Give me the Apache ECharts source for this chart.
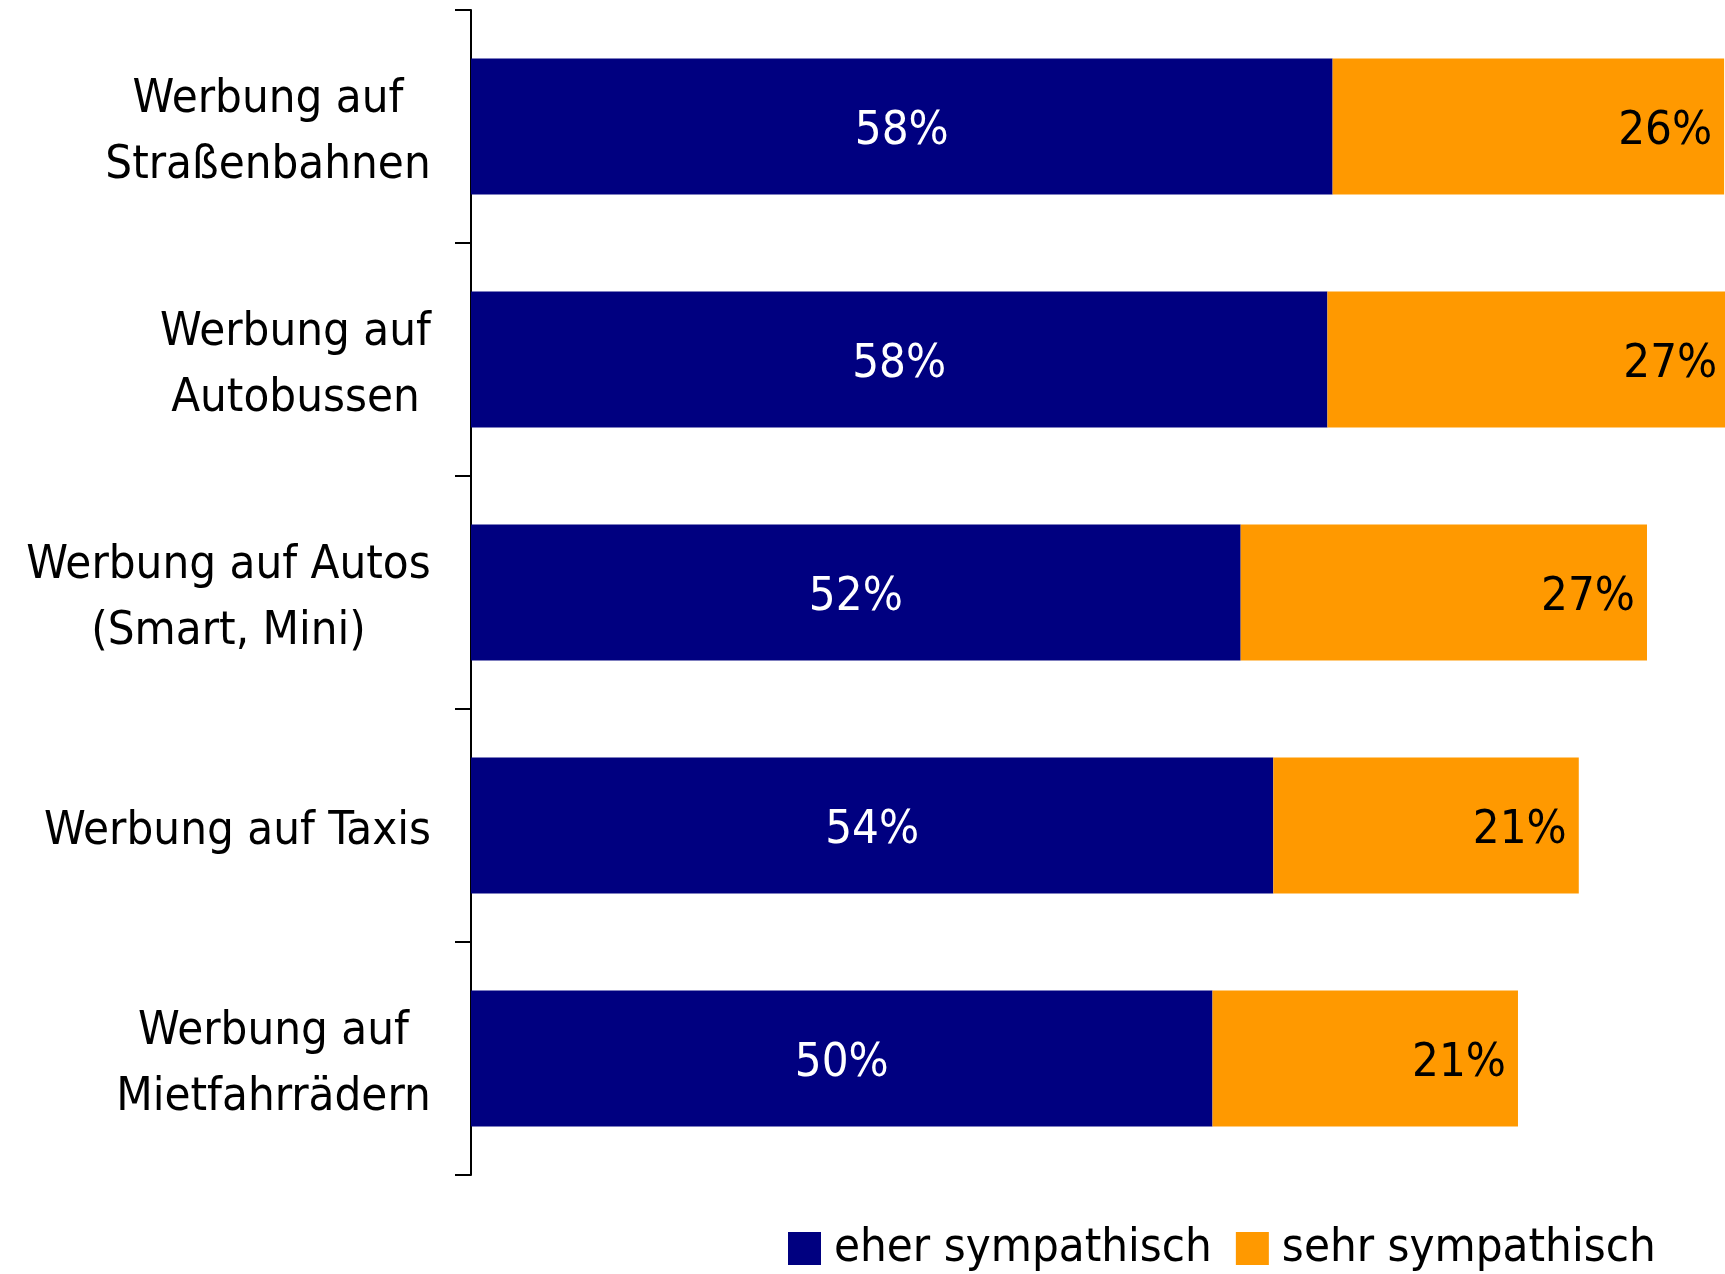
<!DOCTYPE html>
<html>
<head>
<meta charset="utf-8">
<script src="https://cdn.jsdelivr.net/npm/echarts@6/dist/echarts.min.js"></script>
<style>
  html, body { margin: 0; padding: 0; background: #fff; }
  #chart { width: 1725px; height: 1274px; }
</style>
</head>
<body>
<div id="chart"></div>
<script>
// Kategorien (von oben nach unten)
var categories = [
    'Werbung auf\nStraßenbahnen',
    'Werbung auf\nAutobussen',
    'Werbung auf Autos\n(Smart, Mini)',
    'Werbung auf Taxis',
    'Werbung auf\nMietfahrrädern'
];
var seriesNames = ['eher sympathisch', 'sehr sympathisch'];
// Werte in Prozent
var eherValues = [58.1, 57.75, 51.9, 54.1, 50.0];
var sehrValues = [26.4, 27.1, 27.4, 20.6, 20.6];

var FONT = '"DejaVu Sans Condensed", "DejaVu Sans", sans-serif';
var FONT_SIZE = 47;

// Breite jeder Beschriftung messen, damit die Zeilen im Block zentriert sind
var ctx = document.createElement('canvas').getContext('2d');
ctx.font = FONT_SIZE + 'px ' + FONT;
var rich = {};
categories.forEach(function (c, i) {
    var w = 0;
    c.split('\n').forEach(function (line) {
        w = Math.max(w, ctx.measureText(line).width);
    });
    rich['c' + i] = {
        width: Math.ceil(w),
        align: 'center',
        fontSize: FONT_SIZE,
        fontFamily: FONT,
        lineHeight: 66,
        color: '#000'
    };
});

var chart = echarts.init(document.getElementById('chart'));

chart.setOption({
    animation: false,
    backgroundColor: '#fff',
    grid: {
        left: 471,
        right: 0,
        top: 10,
        bottom: 99
    },
    legend: {
        data: seriesNames,
        left: 783,
        top: 1220,
        icon: 'rect',
        itemWidth: 33,
        itemHeight: 33,
        itemGap: 24,
        textStyle: {
            fontSize: FONT_SIZE,
            fontFamily: FONT,
            color: '#000',
            padding: [4, 0, 0, 8]
        }
    },
    xAxis: {
        type: 'value',
        min: 0,
        max: 84.56,
        show: false
    },
    yAxis: {
        type: 'category',
        inverse: true,
        data: categories,
        axisLine: { lineStyle: { color: '#000', width: 2 } },
        axisTick: { show: true, length: 16, lineStyle: { color: '#000', width: 2 } },
        splitLine: { show: false },
        axisLabel: {
            margin: 40,
            align: 'right',
            padding: [12, 0, 0, 0],
            formatter: function (value, idx) {
                return value.split('\n').map(function (l) {
                    return '{c' + idx + '|' + l + '}';
                }).join('\n');
            },
            rich: rich
        }
    },
    series: [
        {
            name: seriesNames[0],
            type: 'bar',
            stack: 'total',
            barWidth: '58.4%',
            clip: false,
            data: eherValues,
            itemStyle: { color: '#000080' },
            label: {
                show: true,
                position: 'inside',
                offset: [0, 5],
                color: '#fff',
                fontSize: FONT_SIZE,
                fontFamily: FONT,
                formatter: function (p) { return Math.round(p.value) + '%'; }
            }
        },
        {
            name: seriesNames[1],
            type: 'bar',
            stack: 'total',
            clip: false,
            data: sehrValues,
            itemStyle: { color: '#FF9900' },
            label: {
                show: true,
                position: 'insideRight',
                distance: 12,
                offset: [0, 5],
                color: '#000',
                fontSize: FONT_SIZE,
                fontFamily: FONT,
                formatter: function (p) { return Math.round(p.value) + '%'; }
            }
        }
    ]
});
</script>
</body>
</html>
